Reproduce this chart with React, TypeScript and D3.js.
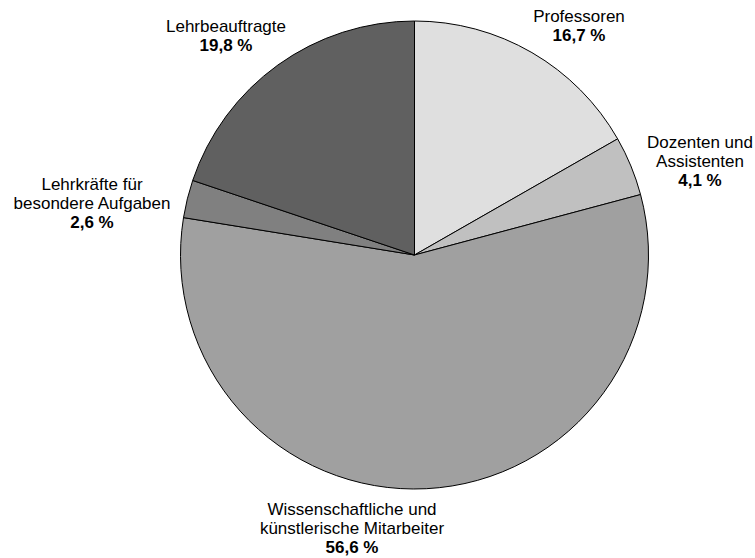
import React from "react";
import * as d3 from "d3";

const categories = [
  "Professoren",
  "Dozenten und Assistenten",
  "Wissenschaftliche und künstlerische Mitarbeiter",
  "Lehrkräfte für besondere Aufgaben",
  "Lehrbeauftragte",
];
const values = [16.7, 4.1, 56.6, 2.6, 19.8];
const valueLabels = ["16,7 %", "4,1 %", "56,6 %", "2,6 %", "19,8 %"];
const labelLines = [
  ["Professoren"],
  ["Dozenten und", "Assistenten"],
  ["Wissenschaftliche und", "künstlerische Mitarbeiter"],
  ["Lehrkräfte für", "besondere Aufgaben"],
  ["Lehrbeauftragte"],
];
const colors = ["#dfdfdf", "#c0c0c0", "#a0a0a0", "#808080", "#606060"];
// label anchor: center x and baseline of the last (value) line
const labelPos: [number, number][] = [
  [579, 41],
  [700, 186],
  [352, 553],
  [92, 228],
  [226, 51],
];

export default function App() {
  const W = 755, H = 558;
  const cx = 414.5, cy = 255, r = 234;
  const pie = d3.pie<number>().sort(null).value((d) => d);
  const arcs = pie(values);
  const arc = d3.arc<d3.PieArcDatum<number>>().innerRadius(0).outerRadius(r);
  const lh = 19;
  return (
    <div style={{ position: "fixed", left: 0, top: 0 }}>
      <svg width={W} height={H} style={{ display: "block", background: "#fff" }}
        fontFamily="'Liberation Sans', Arial, sans-serif" fontSize={17}>
        <g transform={`translate(${cx},${cy})`}>
          {arcs.map((a, i) => (
            <path key={categories[i]} d={arc(a) || ""} fill={colors[i]} stroke="#000" strokeWidth={1} strokeLinejoin="round" />
          ))}
        </g>
        {labelLines.map((lines, i) => {
          const [x, y] = labelPos[i];
          const n = lines.length;
          return (
            <g key={i}>
              {lines.map((t, j) => (
                <text key={j} x={x} y={y - (n - j) * lh} textAnchor="middle" fill="#000">{t}</text>
              ))}
              <text x={x} y={y} textAnchor="middle" fontWeight="bold" fill="#000">{valueLabels[i]}</text>
            </g>
          );
        })}
      </svg>
    </div>
  );
}
